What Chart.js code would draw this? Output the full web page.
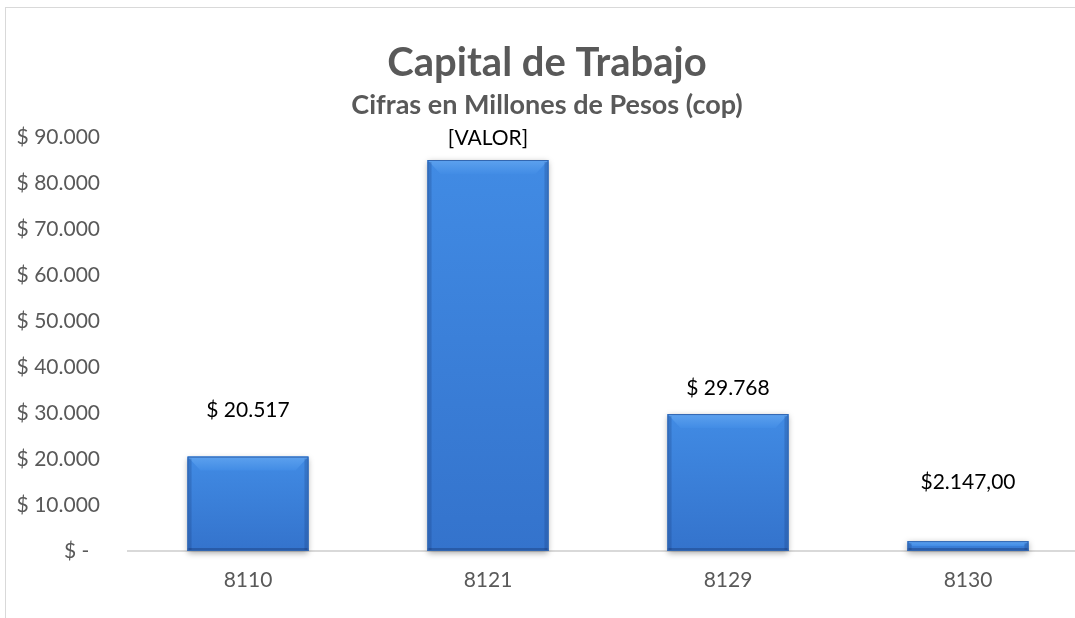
<!DOCTYPE html>
<html>
<head>
<meta charset="utf-8">
<script src="https://cdn.jsdelivr.net/npm/chart.js@4.4.1/dist/chart.umd.min.js"></script>
<style>
  html, body { margin: 0; padding: 0; background: #fff; overflow: hidden; }
  #wrap {
    position: absolute; left: 5px; top: 7px;
    width: 1082px; height: 611px;
    border-left: 1px solid #d9d9d9; border-top: 1px solid #d9d9d9;
  }
</style>
</head>
<body>
<div id="wrap"><canvas id="capChart" width="1082" height="611"></canvas></div>
<script>
// datos del grafico
const cuentas = ['8110', '8121', '8129', '8130'];
const valores = [20517, 85000, 29768, 2147];
const etiquetas = ['$ 20.517', '[VALOR]', '$ 29.768', '$2.147,00'];
const ticksY = [0, 10000, 20000, 30000, 40000, 50000, 60000, 70000, 80000, 90000];

// ajuste manual de la altura de las etiquetas (como en el original)
const subirEtiqueta = [46, 22, 26, 59];

const FONT = 'Lato, "Open Sans", sans-serif';

function formatoPesos(v) {
  if (v === 0) return '$ -  ';
  return '$ ' + String(v).replace(/\B(?=(\d{3})+(?!\d))/g, '.');
}

// barras con efecto biselado tipo Excel
const biselPlugin = {
  id: 'bisel',
  afterDatasetsDraw(chart) {
    const ctx = chart.ctx;
    const meta = chart.getDatasetMeta(0);
    meta.data.forEach((bar) => {
      const p = bar.getProps(['x', 'y', 'base', 'width'], true);
      const L = p.x - p.width / 2, R = p.x + p.width / 2;
      const T = Math.min(p.y, p.base), B = Math.max(p.y, p.base);
      const h = B - T;
      const t = Math.min(14, h / 2), s = Math.min(13, h / 2);

      ctx.save();
      // sombra
      ctx.shadowColor = 'rgba(0,0,0,0.35)';
      ctx.shadowBlur = 6;
      ctx.shadowOffsetY = 2;
      ctx.fillStyle = '#3a82dc';
      ctx.fillRect(L, T, p.width, h);
      ctx.restore();

      ctx.save();
      let g = ctx.createLinearGradient(0, T, 0, B);
      g.addColorStop(0, '#418be4');
      g.addColorStop(1, '#3473cc');
      ctx.fillStyle = g;
      ctx.fillRect(L, T, p.width, h);

      // bisel superior
      g = ctx.createLinearGradient(0, T, 0, T + t);
      g.addColorStop(0, '#5da1ee');
      g.addColorStop(1, '#428ce5');
      ctx.fillStyle = g;
      ctx.beginPath();
      ctx.moveTo(L, T); ctx.lineTo(R, T);
      ctx.lineTo(R - s, T + t); ctx.lineTo(L + s, T + t);
      ctx.closePath(); ctx.fill();

      // laterales
      ctx.fillStyle = 'rgba(20,50,110,0.22)';
      ctx.fillRect(L, T + 2, 4, h - 2);
      ctx.fillRect(R - 4, T + 2, 4, h - 2);
      // inferior
      ctx.fillStyle = 'rgba(20,45,100,0.35)';
      ctx.fillRect(L, B - Math.min(3, h / 3), p.width, Math.min(3, h / 3));

      ctx.strokeStyle = '#3266b0';
      ctx.lineWidth = 1;
      ctx.strokeRect(L + 0.5, T + 0.5, p.width - 1, h - 1);
      ctx.restore();
    });
  }
};

const etiquetasPlugin = {
  id: 'etiquetas',
  afterDatasetsDraw(chart) {
    const ctx = chart.ctx;
    const meta = chart.getDatasetMeta(0);
    ctx.save();
    ctx.font = '21px ' + FONT;
    ctx.fillStyle = '#000';
    ctx.textAlign = 'center';
    ctx.textBaseline = 'middle';
    meta.data.forEach((bar, i) => {
      ctx.fillText(etiquetas[i], bar.x, bar.y - subirEtiqueta[i]);
    });
    ctx.restore();
  }
};

new Chart(document.getElementById('capChart').getContext('2d'), {
  type: 'bar',
  data: {
    labels: cuentas,
    datasets: [{
      data: valores,
      backgroundColor: 'rgba(0,0,0,0)',
      categoryPercentage: 1,
      barPercentage: 0.504
    }]
  },
  options: {
    responsive: false,
    animation: false,
    layout: { padding: 0 },
    plugins: {
      legend: { display: false },
      tooltip: { enabled: false },
      title: {
        display: true,
        text: 'Capital de Trabajo',
        color: '#595959',
        font: { family: FONT, size: 40, weight: 'bold', lineHeight: 1 },
        padding: { top: 35, bottom: 0 }
      },
      subtitle: {
        display: true,
        text: 'Cifras en Millones de Pesos (cop)',
        color: '#595959',
        font: { family: FONT, size: 27, weight: 'bold', lineHeight: 1.2 },
        padding: { top: 6, bottom: 15.6 }
      }
    },
    scales: {
      x: {
        grid: { display: false, drawTicks: false },
        border: { display: true, color: '#d9d9d9', width: 2 },
        ticks: { color: '#595959', font: { family: FONT, size: 21 }, padding: 17 },
        afterFit(axis) { axis.height = 68; }
      },
      y: {
        min: 0, max: 90000,
        afterBuildTicks(axis) { axis.ticks = ticksY.map(v => ({ value: v })); },
        grid: { display: false, drawTicks: false },
        border: { display: false },
        ticks: {
          color: '#595959',
          font: { family: FONT, size: 21 },
          padding: 28,
          callback: (v) => formatoPesos(v)
        },
        afterFit(axis) { axis.width = 122; }
      }
    }
  },
  plugins: [biselPlugin, etiquetasPlugin]
});
</script>
</body>
</html>
